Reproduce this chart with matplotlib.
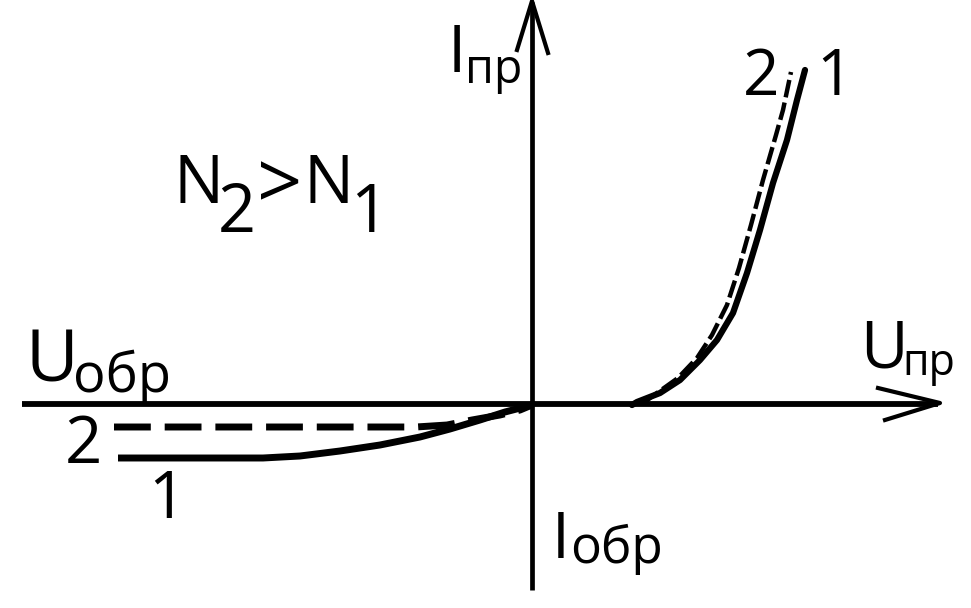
import matplotlib
matplotlib.use("Agg")
import matplotlib.pyplot as plt

# ---- data (arbitrary units: U horizontal, I vertical) ----
rev1_u = [-414, -269, -232, -192, -152, -112, -82, -52, -27, 0]
rev1_i = [-53, -53, -51, -46, -40, -32, -24, -15, -7, 0]
rev2_u = [-418, -116, -85, -60, -32, -12, 0]
rev2_i = [-22, -22, -20, -15, -10, -5, 0]
fwd1_u = [100, 105, 128, 148, 168, 185, 201, 215, 228, 241, 255, 265, 273]
fwd1_i = [0, 3, 12, 25, 45, 65, 92, 132, 175, 222, 265, 305, 335]
fwd2_u = [112, 118, 146, 165, 180, 195, 207, 219, 231, 244, 251, 259]
fwd2_i = [2, 7, 27, 47, 70, 100, 137, 180, 225, 270, 295, 333]

FONT = ['Open Sans', 'DejaVu Sans']
plt.rcParams['font.family'] = FONT

fig = plt.figure(figsize=(9.71, 6.08), dpi=100)
ax = fig.add_axes([0, 0, 1, 1])
ax.set_xlim(-532, 439)
ax.set_ylim(-203, 405)
ax.axis('off')

k = 'black'
# axes
ax.plot([-510, 406], [1, 1], color=k, lw=4.2, solid_capstyle='butt')
ax.plot([0, 0], [-185, 403], color=k, lw=3.4, solid_capstyle='butt')
# arrowheads
ax.plot([346, 408, 353], [17, 2, -15], color=k, lw=3.0)
ax.plot([-15, 0, 16], [355, 404, 352], color=k, lw=3.0)

# curves
ax.plot(rev1_u, rev1_i, color=k, lw=5.0, solid_capstyle='butt', solid_joinstyle='round')
ax.plot(rev2_u, rev2_i, color=k, lw=5.0, linestyle=(0, (5.3, 2.0)), dash_capstyle='butt')
ax.plot(fwd1_u, fwd1_i, color=k, lw=4.5, solid_capstyle='round', solid_joinstyle='round')
ax.plot(fwd2_u, fwd2_i, color=k, lw=3.2, linestyle=(0, (4.0, 1.2)), dash_capstyle='butt')

def t(x, y, s, size, ha='left'):
    ax.text(x, y, s, fontsize=size, ha=ha, va='baseline', color=k, family=FONT)

# labels (positions relative to origin)
t(-84, 333, 'I', 47)
t(-67, 322, 'пр', 33.5)
t(-507, 23, 'U', 52)
t(-459, 13, 'обр', 39)
t(328, 38, 'U', 47)
t(370, 30, 'пр', 31)
t(20, -153, 'I', 46)
t(38, -158, 'обр', 37)
t(-359, 202, 'N', 48)
t(-314, 173, '2', 48)
t(-275, 196, '>', 57)
t(-229, 202, 'N', 48)
t(-182, 173, '1', 48)
t(-467, -58, '2', 47)
t(-384, -113, '1', 47)
t(211, 310, '2', 46)
t(284, 310, '1', 46)

fig.savefig('out.png', dpi=100)
